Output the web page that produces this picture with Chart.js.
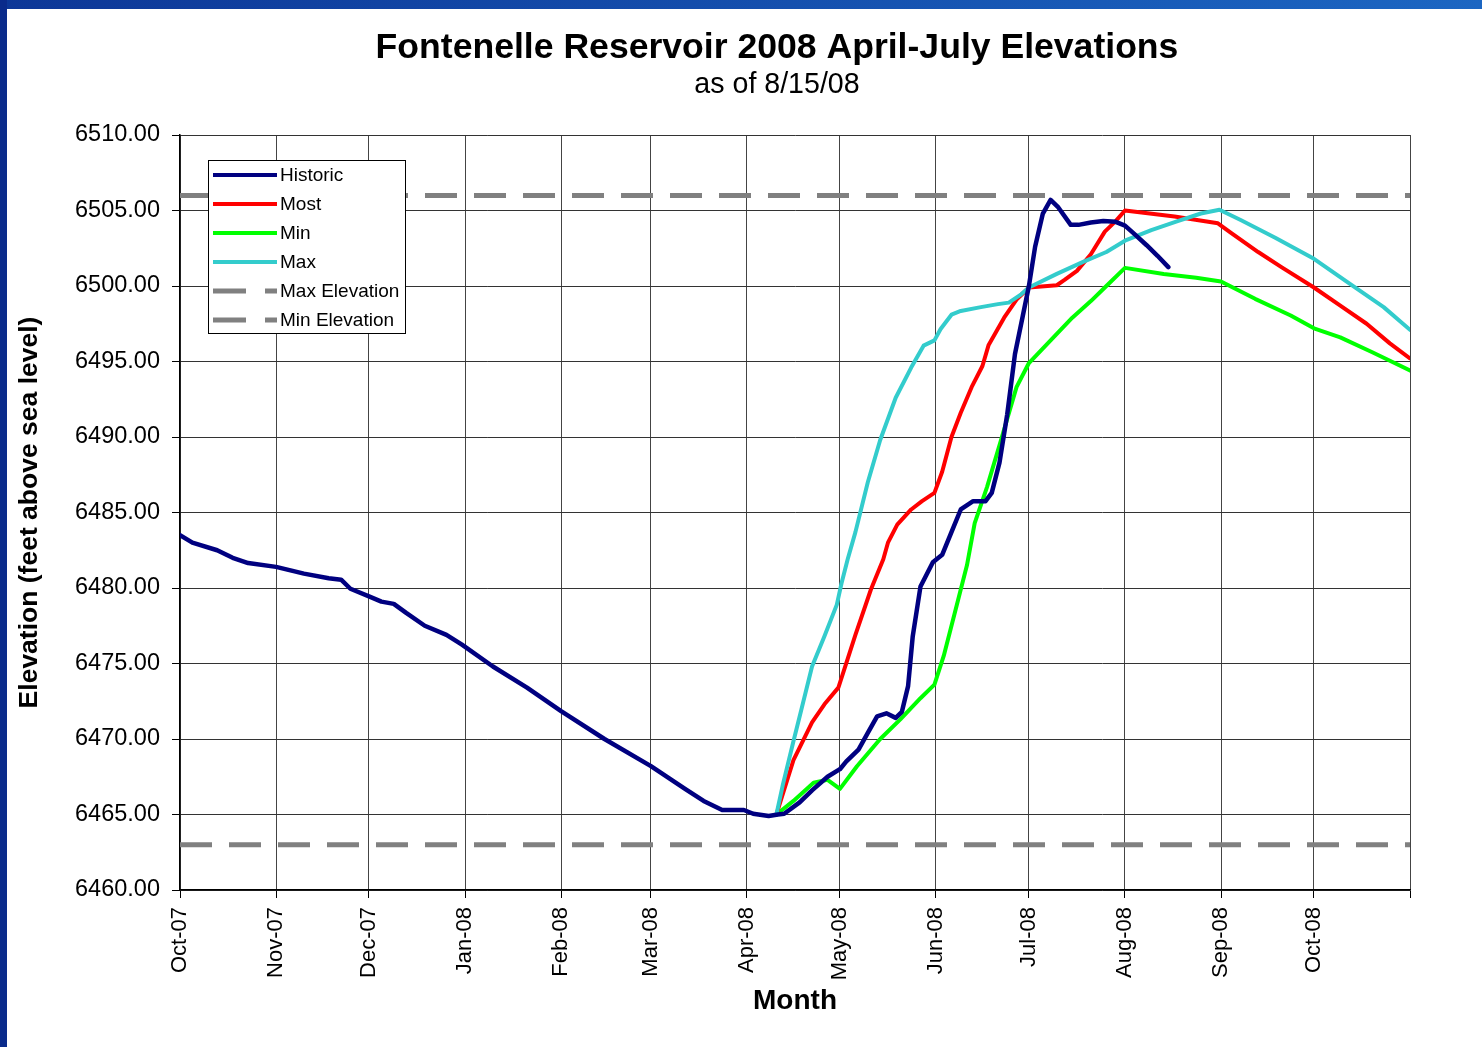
<!DOCTYPE html>
<html>
<head>
<meta charset="utf-8">
<title>Fontenelle Reservoir 2008 April-July Elevations</title>
<script src="https://cdn.jsdelivr.net/npm/chart.js@4.4.1/dist/chart.umd.min.js"></script>
<style>
  html, body { margin: 0; padding: 0; background: #fff; overflow: hidden; }
  #topbar { position: absolute; left: 0; top: 0; width: 1482px; height: 9px;
            background: linear-gradient(to right, #0d3797, #1c66c2); }
  #leftbar { position: absolute; left: 0; top: 0; width: 7px; height: 1047px; background: #0a2b8b; }
  #wrap { position: absolute; left: 7px; top: 8px; width: 1475px; height: 1039px; }
</style>
</head>
<body>
<div id="topbar"></div>
<div id="leftbar"></div>
<div id="wrap"><canvas id="myChart"></canvas></div>
<script>
// x values are days since 1 Oct 2007
var monthDays = [0, 31, 61, 92, 123, 152, 183, 213, 244, 274, 305, 336, 366, 397];
var monthLabels = ['Oct-07', 'Nov-07', 'Dec-07', 'Jan-08', 'Feb-08', 'Mar-08', 'Apr-08',
                   'May-08', 'Jun-08', 'Jul-08', 'Aug-08', 'Sep-08', 'Oct-08', ''];

var histDays = [0, 4, 12, 17, 22, 31, 40, 48, 52, 55, 61, 65, 69, 73, 79, 86, 91, 101, 112, 123,
                137, 152, 163, 169, 175, 182, 185, 190, 193, 195, 200, 204, 209, 213, 215, 219,
                222, 225, 228, 231, 233, 235, 236.5, 239, 243, 246, 249, 252, 256, 260, 262,
                264.5, 267, 269.5, 272, 274, 276, 278.5, 281, 283.5, 287.5, 290, 294, 298, 302,
                305, 308, 312, 315.5, 319];
var histElev = [6483.5, 6483.0, 6482.5, 6482.0, 6481.65, 6481.4, 6480.95, 6480.65, 6480.55, 6479.95,
                6479.45, 6479.1, 6478.95, 6478.35, 6477.5, 6476.9, 6476.25, 6474.8, 6473.4, 6471.85,
                6470.0, 6468.2, 6466.7, 6465.9, 6465.3, 6465.3, 6465.05, 6464.9, 6465.0, 6465.05,
                6465.8, 6466.6, 6467.5, 6468.0, 6468.5, 6469.3, 6470.4, 6471.5, 6471.7, 6471.4,
                6471.8, 6473.5, 6476.8, 6480.1, 6481.7, 6482.2, 6483.7, 6485.2, 6485.75, 6485.75,
                6486.3, 6488.3, 6491.5, 6495.5, 6498.0, 6500.0, 6502.6, 6504.8, 6505.7, 6505.2,
                6504.05, 6504.05, 6504.2, 6504.3, 6504.25, 6504.0, 6503.45, 6502.7, 6502.0, 6501.25];

var mostDays = [192.5, 198, 204, 208, 212.5, 215.5, 218, 223, 227, 228.5, 231.5, 236, 239.5, 243.5,
                246, 249, 252, 255.5, 259, 261, 266, 270, 274, 283, 285.5, 289.5, 294, 298.5, 302,
                305, 321, 335, 339, 348, 355.5, 366, 374.5, 383, 390.5, 397];
var mostElev = [6465.0, 6468.6, 6471.1, 6472.3, 6473.4, 6475.3, 6476.9, 6479.9, 6481.9, 6483.0,
                6484.2, 6485.2, 6485.75, 6486.3, 6487.7, 6490.0, 6491.6, 6493.3, 6494.7, 6496.1,
                6497.9, 6499.1, 6499.9, 6500.05, 6500.4, 6501.0, 6502.1, 6503.6, 6504.3, 6505.0,
                6504.6, 6504.15, 6503.55, 6502.25, 6501.25, 6499.9, 6498.7, 6497.5, 6496.2, 6495.2];

var minDays = [192.5, 198, 204.5, 209, 213, 218.5, 226, 232.5, 239, 243.5, 246.5, 250, 254, 256.5,
               260.5, 265, 270, 274, 281, 288, 294, 299, 305, 317.5, 328, 336, 347, 358.5, 366,
               374.5, 385, 397];
var minElev = [6465.0, 6465.9, 6467.1, 6467.3, 6466.7, 6468.2, 6470.0, 6471.3, 6472.7, 6473.6,
               6475.5, 6478.3, 6481.5, 6484.3, 6486.7, 6489.8, 6493.3, 6494.9, 6496.4, 6497.9,
               6499.0, 6500.0, 6501.2, 6500.8, 6500.55, 6500.3, 6499.15, 6498.05, 6497.2, 6496.6,
               6495.6, 6494.4];

var maxDays = [192.5, 194.5, 198, 200.5, 204, 208, 212, 213.5, 215.5, 218, 222, 226, 231, 236, 240,
               243.5, 245.5, 249, 252, 258.5, 264, 267.5, 271.5, 274, 283, 291.5, 299, 305, 313.5,
               322, 329.5, 335.5, 342.5, 353.5, 366, 377.5, 388.5, 397];
var maxElev = [6465.0, 6466.9, 6469.85, 6471.9, 6474.8, 6476.8, 6478.9, 6480.3, 6481.9, 6483.7,
               6487.0, 6489.8, 6492.6, 6494.6, 6496.05, 6496.4, 6497.15, 6498.1, 6498.35, 6498.6,
               6498.8, 6498.9, 6499.45, 6499.9, 6500.8, 6501.6, 6502.25, 6503.0, 6503.7, 6504.3,
               6504.8, 6505.05, 6504.35, 6503.2, 6501.8, 6500.15, 6498.6, 6497.1];

var limitDays = [0, 397];
var maxElevation = 6506.0;
var minElevation = 6463.0;

var titleText = 'Fontenelle Reservoir 2008 April-July Elevations';
var subtitleText = 'as of 8/15/08';

function pts(xs, ys) {
  return xs.map(function(x, i) { return {x: x, y: ys[i]}; });
}

var FONT = "'Liberation Sans', Arial, sans-serif";
Chart.defaults.font.family = FONT;
Chart.defaults.color = '#000';

// heading sits a bit left of the plot centre in the original, so draw it here
var headings = {
  id: 'headings',
  afterDraw: function(chart) {
    var ctx = chart.ctx;
    ctx.save();
    ctx.fillStyle = '#000';
    ctx.textAlign = 'center';
    ctx.textBaseline = 'alphabetic';
    ctx.font = 'bold 35.6px ' + FONT;
    ctx.fillText(titleText, 770, 50);
    ctx.font = '28.6px ' + FONT;
    ctx.fillText(subtitleText, 770, 85);
    ctx.restore();
  }
};

// legend drawn inside the plot, like the original
var legendBox = {
  id: 'legendBox',
  afterDatasetsDraw: function(chart) {
    var ctx = chart.ctx, area = chart.chartArea;
    var x = area.left + 28, y = area.top + 25, w = 197, h = 173;
    ctx.save();
    ctx.fillStyle = '#fff';
    ctx.fillRect(x, y, w, h);
    ctx.strokeStyle = '#000';
    ctx.lineWidth = 1;
    ctx.strokeRect(x + 0.5, y + 0.5, w, h);
    ctx.font = '19px ' + FONT;
    ctx.textBaseline = 'middle';
    chart.data.datasets.forEach(function(ds, i) {
      var ry = y + 15 + i * 29;
      ctx.strokeStyle = ds.borderColor;
      ctx.lineWidth = ds.borderDash ? 5 : 4;
      ctx.setLineDash(ds.borderDash ? [33, 19] : []);
      ctx.beginPath();
      ctx.moveTo(x + 5, ry);
      ctx.lineTo(x + 69, ry);
      ctx.stroke();
      ctx.setLineDash([]);
      ctx.fillStyle = '#000';
      ctx.fillText(ds.label, x + 72, ry + 1);
    });
    ctx.restore();
  }
};

new Chart('myChart', {
  type: 'line',
  data: {
    datasets: [
      { label: 'Historic', data: pts(histDays, histElev), borderColor: '#000080', borderWidth: 4.5, order: 1 },
      { label: 'Most', data: pts(mostDays, mostElev), borderColor: '#ff0000', order: 3 },
      { label: 'Min', data: pts(minDays, minElev), borderColor: '#00ff00', order: 4 },
      { label: 'Max', data: pts(maxDays, maxElev), borderColor: '#33cccc', order: 2 },
      { label: 'Max Elevation', data: pts(limitDays, [maxElevation, maxElevation]),
        borderColor: '#808080', borderDash: [32, 17], borderWidth: 5, borderCapStyle: 'butt', order: 5 },
      { label: 'Min Elevation', data: pts(limitDays, [minElevation, minElevation]),
        borderColor: '#808080', borderDash: [32, 17], borderWidth: 5, borderCapStyle: 'butt', order: 6 }
    ]
  },
  options: {
    responsive: true,
    maintainAspectRatio: false,
    animation: false,
    layout: { padding: { left: 0, right: 72, top: 127, bottom: 0 } },
    elements: {
      point: { radius: 0 },
      line: { borderWidth: 4, tension: 0, fill: false, borderCapStyle: 'round', borderJoinStyle: 'round' }
    },
    plugins: {
      legend: { display: false },
      tooltip: { enabled: false },
      title: { display: false }
    },
    scales: {
      x: {
        type: 'linear',
        min: 0,
        max: 397,
        afterBuildTicks: function(scale) {
          scale.ticks = monthDays.map(function(d) { return {value: d}; });
        },
        afterFit: function(scale) { scale.height = 157; },
        ticks: {
          autoSkip: false,
          maxRotation: 90,
          minRotation: 90,
          padding: 9,
          color: '#000',
          font: { size: 22 },
          callback: function(value) {
            var i = monthDays.indexOf(value);
            return i >= 0 ? monthLabels[i] : '';
          }
        },
        grid: { color: '#444', lineWidth: 1, tickLength: 8, tickColor: '#000' },
        border: { color: '#000', width: 1.5 },
        title: {
          display: true,
          text: 'Month',
          color: '#000',
          font: { size: 28, weight: 'bold' },
          padding: { top: 0, bottom: 29 }
        }
      },
      y: {
        min: 6460,
        max: 6510,
        afterFit: function(scale) { scale.width = 173; },
        ticks: {
          stepSize: 5,
          padding: 12,
          color: '#000',
          font: { size: 23.5 },
          callback: function(value) { return value.toFixed(2); }
        },
        grid: { color: '#333', lineWidth: 1, tickLength: 8, tickColor: '#000' },
        border: { color: '#000', width: 1.5 },
        title: {
          display: true,
          text: 'Elevation (feet above sea level)',
          color: '#000',
          font: { size: 26.5, weight: 'bold' },
          padding: { top: 7, bottom: 0 }
        }
      }
    }
  },
  plugins: [legendBox, headings]
});
</script>
</body>
</html>
